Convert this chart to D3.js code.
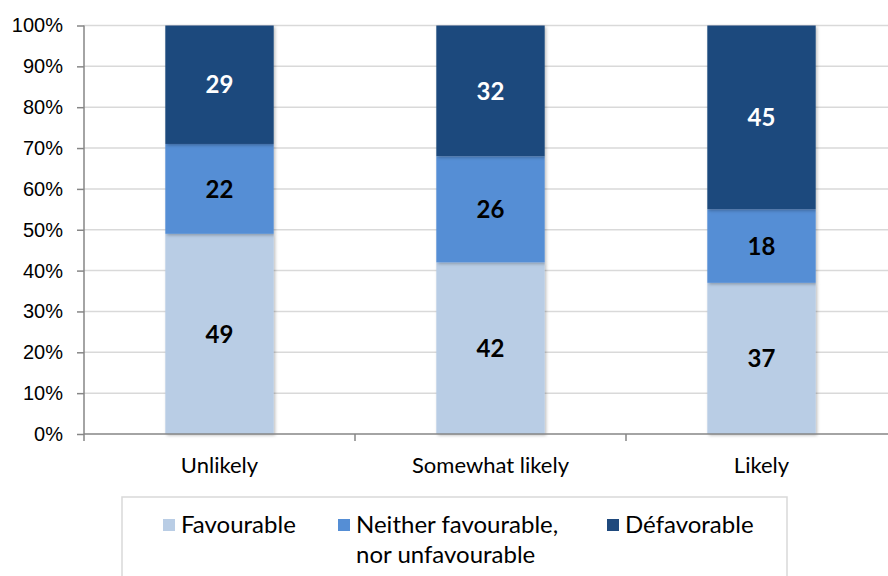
<!DOCTYPE html>
<html>
<head>
<meta charset="utf-8">
<script src="https://cdn.jsdelivr.net/npm/d3@7"></script>
<style>
  body { margin: 0; background: #fff; }
  svg { display: block; }
</style>
</head>
<body>
<svg id="chart" width="888" height="576"></svg>
<script>
// categories and series (percent)
const categories = ["Unlikely", "Somewhat likely", "Likely"];
const seriesNames = ["Favourable", "Neither favourable,|nor unfavourable", "Défavorable"];
const favourable = [49, 42, 37];
const neither = [22, 26, 18];
const defavorable = [29, 32, 45];
const yTicks = [0, 10, 20, 30, 40, 50, 60, 70, 80, 90, 100];
const colors = ["#b9cde5", "#558ed5", "#1f497d"];

const svg = d3.select("#chart");
const margin = { left: 84, top: 25.5, bottom: 434 };

const rows = categories.map((c, i) => ({
  cat: c,
  s0: favourable[i], s1: neither[i], s2: defavorable[i]
}));
const stack = d3.stack().keys(["s0", "s1", "s2"])(rows);

const x = d3.scaleBand()
  .domain(categories)
  .range([margin.left, margin.left + 813])
  .paddingInner(0.6)
  .paddingOuter(0.3);

const y = d3.scaleLinear().domain([0, 100]).range([margin.bottom, margin.top]);

// drop shadow for bars
const defs = svg.append("defs");
defs.append("filter").attr("id", "shadow")
  .attr("x", "-10%").attr("y", "-10%").attr("width", "120%").attr("height", "120%")
  .append("feDropShadow")
  .attr("dx", 1.5).attr("dy", 1.5).attr("stdDeviation", 1.5)
  .attr("flood-color", "#000").attr("flood-opacity", 0.25);

// gridlines
svg.append("g")
  .selectAll("line")
  .data(yTicks.filter(d => d > 0))
  .join("line")
  .attr("x1", margin.left).attr("x2", 888)
  .attr("y1", d => y(d)).attr("y2", d => y(d))
  .attr("stroke", "#d9d9d9").attr("stroke-width", 1.5);

// bars
const layers = svg.append("g").selectAll("g")
  .data(stack)
  .join("g")
  .attr("fill", (d, i) => colors[i]);

layers.selectAll("rect")
  .data(d => d)
  .join("rect")
  .attr("x", d => x(d.data.cat))
  .attr("width", x.bandwidth())
  .attr("y", d => y(d[1]))
  .attr("height", d => y(d[0]) - y(d[1]))
  .attr("filter", "url(#shadow)");

// value labels
stack.forEach((layer, i) => {
  svg.append("g").selectAll("text")
    .data(layer)
    .join("text")
    .attr("x", d => x(d.data.cat) + x.bandwidth() / 2)
    .attr("y", d => y((d[0] + d[1]) / 2))
    .attr("dy", "0.36em")
    .attr("text-anchor", "middle")
    .style("font-family", "Lato, 'Open Sans', sans-serif")
    .style("font-weight", "bold")
    .style("font-size", "24px")
    .attr("fill", i === 2 ? "#fff" : "#000")
    .text(d => d[1] - d[0]);
});

// y axis
const yAxis = svg.append("g")
  .attr("transform", `translate(${margin.left},0)`)
  .call(d3.axisLeft(y).tickValues(yTicks).tickFormat(d => d + "%").tickSize(7).tickPadding(14));
yAxis.select(".domain").attr("stroke", "#868686").attr("stroke-width", 1.5).attr("d", `M0,${margin.top}V${margin.bottom}`);
yAxis.selectAll(".tick line").attr("stroke", "#868686").attr("stroke-width", 1.5);
yAxis.selectAll(".tick text")
  .style("font-family", "'Liberation Sans', Arial, sans-serif")
  .style("font-size", "20px")
  .attr("fill", "#000");

// x axis
const xAxis = svg.append("g")
  .attr("transform", `translate(0,${margin.bottom})`);
xAxis.append("line")
  .attr("x1", margin.left).attr("x2", 888)
  .attr("stroke", "#868686").attr("stroke-width", 1.5);
const step = x.step();
xAxis.selectAll(".xtick")
  .data(d3.range(categories.length + 1))
  .join("line")
  .attr("class", "xtick")
  .attr("x1", i => margin.left + i * step).attr("x2", i => margin.left + i * step)
  .attr("y1", 0).attr("y2", 7)
  .attr("stroke", "#868686").attr("stroke-width", 1.5);
xAxis.selectAll(".xlabel")
  .data(categories)
  .join("text")
  .attr("class", "xlabel")
  .attr("x", d => x(d) + x.bandwidth() / 2)
  .attr("y", 39)
  .attr("text-anchor", "middle")
  .style("font-family", "Lato, 'Open Sans', sans-serif")
  .style("font-size", "22px")
  .attr("fill", "#000")
  .text(d => d);

// legend
const legend = svg.append("g");
legend.append("rect")
  .attr("x", 122).attr("y", 497)
  .attr("width", 665).attr("height", 100)
  .attr("fill", "#fff")
  .attr("stroke", "#d9d9d9").attr("stroke-width", 1.5);

const legendX = [163, 338, 607];
seriesNames.forEach((name, i) => {
  legend.append("rect")
    .attr("x", legendX[i]).attr("y", 519)
    .attr("width", 12).attr("height", 12)
    .attr("fill", colors[i]);
  const t = legend.append("text")
    .attr("x", legendX[i] + 18)
    .attr("y", 533)
    .style("font-family", "Lato, 'Open Sans', sans-serif")
    .style("font-size", "24px")
    .attr("fill", "#000");
  name.split("|").forEach((line, j) => {
    t.append("tspan")
      .attr("x", legendX[i] + 18)
      .attr("dy", j === 0 ? 0 : 30)
      .text(line);
  });
});
</script>
</body>
</html>
